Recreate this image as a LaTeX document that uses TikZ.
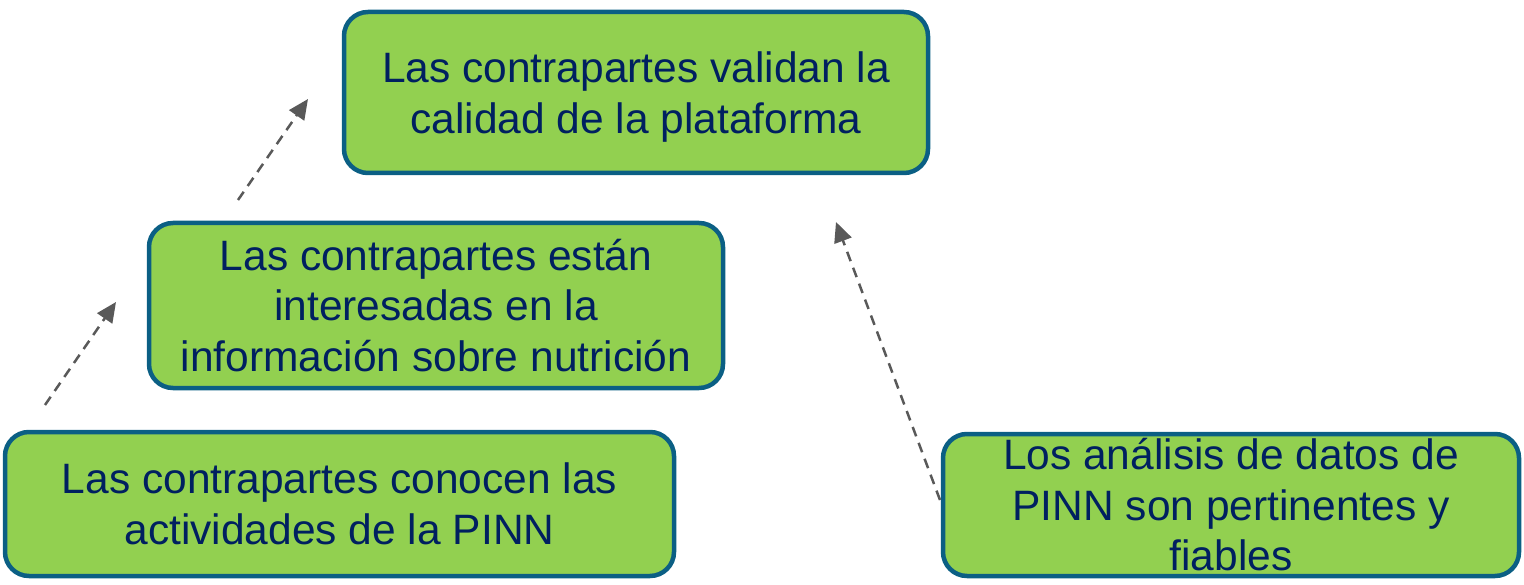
\documentclass[tikz,border=0pt]{standalone}
\usepackage{fontspec}
\setmainfont{Liberation Sans}
\usetikzlibrary{arrows.meta}
\definecolor{boxgreen}{HTML}{92D050}
\definecolor{boxline}{HTML}{0B5F84}
\definecolor{navytext}{HTML}{002060}
\definecolor{arrowgray}{HTML}{595959}
\tikzstyle{result} = [rectangle, rounded corners=24pt, draw=boxline, line width=4.5pt,
  fill=boxgreen, text=navytext, align=center, inner sep=0pt,
  font=\fontsize{42.5}{50.5}\selectfont]
\tikzstyle{link} = [arrowgray, line width=2.5pt, dash pattern=on 10pt off 7pt,
  -{Triangle[length=20pt,width=18pt]}]

\begin{document}
\begin{tikzpicture}[x=1pt,y=-1pt]
      \useasboundingbox   (0,0) rectangle (1524,585);
      \node[result, minimum width=584pt, minimum height=161pt, text depth=0pt] (valid) at (636,92.5)
           {Las contrapartes validan la\\calidad de la plataforma};
      \node[result, minimum width=574pt, minimum height=165pt] (interest) at (436,305.5)
           {Las contrapartes están\\interesadas en la\\información sobre nutrición};
      \node[result, minimum width=669pt, minimum height=144pt] (know)     at (339.5,504)
           {Las contrapartes conocen las\\actividades de la PINN};
      \node[result, minimum width=576pt, minimum height=142pt] (data)     at (1231,505)
           {Los análisis de datos de\\PINN son pertinentes y\\fiables};
      % free ends of the dashed links
      \coordinate (knowtop)    at (45,405);
      \coordinate (interestin) at (116,302);
      \coordinate (interesttop) at (238,200);
      \coordinate (validin)    at (308,99);
      \coordinate (datatop)    at (940,500);
      \coordinate (validbot)   at (836,222);
      \draw[link] (knowtop)     -- (interestin);
      \draw[link] (interesttop) -- (validin);
      \draw[link] (datatop)     -- (validbot);
    \end{tikzpicture}
\end{document}
